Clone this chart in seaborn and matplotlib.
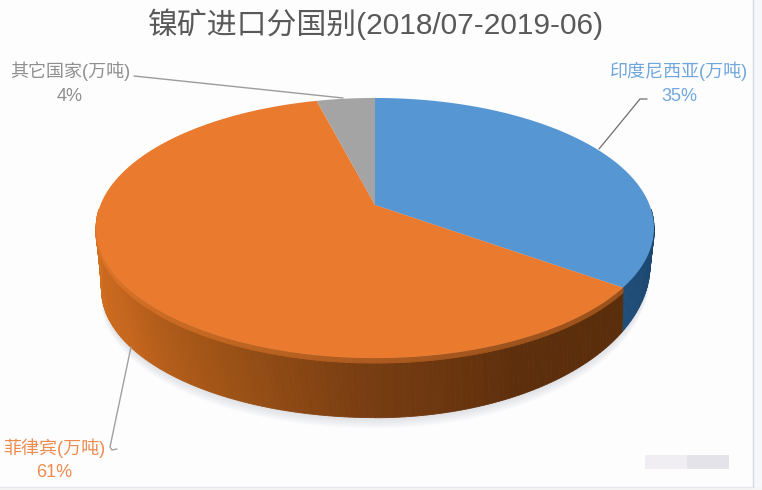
import numpy as np
import seaborn as sns
import matplotlib
matplotlib.use("Agg")
import matplotlib.pyplot as plt
from matplotlib.patches import Rectangle
from matplotlib.path import Path
from matplotlib.transforms import Transform

# Data
countries = ["印度尼西亚(万吨)", "菲律宾(万吨)", "其它国家(万吨)"]
shares = [35, 61, 4]
share_labels = ["35%", "61%", "4%"]
title = "镍矿进口分国别(2018/07-2019-06)"

face_colors = ["#5596D3", "#E97A2E", "#A4A4A4"]
label_colors = ["#6FA6DE", "#EE8B4E", "#8F8F8F"]
rim_palettes = [
    ["#173F63", "#1C4870", "#1F4E79"],
    ["#5A2D0B", "#5E2F0C", "#7A3E12", "#A05416", "#C6661E", "#D2701F"],
    ["#6E6E6E", "#6E6E6E"],
]

sns.set_theme(style="white")
plt.rcParams["font.family"] = ["Liberation Sans", "Noto Sans CJK SC"]

# Pie geometry in pixels (perspective view of a unit circle): A, B, K, dy
CX, CY = 375, 205
TOP = (274.6, 126, 0.177, 0)
BOTTOM_R = (269.5, 147, 0.2, 29)
BOTTOM_L = (273, 127.5, 0.06, 77)


def project(u, v, view=TOP, extra=0.0):
    a, b, k, dy = view
    s = 1 / (1 + k * np.asarray(v))
    return CX + a * np.asarray(u) * s, CY - b * np.asarray(v) * s + dy + extra


class Tilt(Transform):
    input_dims = 2
    output_dims = 2

    def __init__(self, view=TOP, extra=0.0):
        super().__init__()
        self.view = view
        self.extra = extra

    def transform_non_affine(self, values):
        x, y = project(values[:, 0], values[:, 1], self.view, self.extra)
        return np.column_stack([x, y])

    def transform_path_non_affine(self, path):
        # sample the arcs finely, a projected bezier is not a bezier
        steps = np.linspace(0, 1, 16)
        pts = np.vstack([curve(steps) for curve, _ in path.iter_bezier()])
        return Path(self.transform_non_affine(pts))


fig = plt.figure(figsize=(7.62, 4.9), dpi=100, facecolor="#FDFDFE")
ax = fig.add_axes([0, 0, 1, 1])


def draw_pie(values, colors, transform, zorder):
    wedges, _ = ax.pie(values, colors=colors, startangle=90, counterclock=False,
                       wedgeprops={"linewidth": 0})
    for w in wedges:
        w.set_transform(transform + ax.transData)
        w.set_zorder(zorder)
    return wedges


def rim_band(start, stop, palette, upper, lower, zorder, lighten=0.0):
    # start/stop in degrees clockwise from 12 o'clock
    # lower=None means the bottom outline, which differs left and right of 6 o'clock
    n = max(int(stop - start), 1)
    edges = np.linspace(start, stop, n + 1)
    cols = sns.blend_palette(palette, n)
    for i in range(n):
        t = np.radians(edges[[i, i + 1]])
        u, v = np.sin(t), np.cos(t)
        if lower is None:
            low = (BOTTOM_R if edges[i] < 180 else BOTTOM_L, 0)
        else:
            low = lower
        x0, y0 = project(u, v, *upper)
        x1, y1 = project(u, v, *low)
        c = np.array(cols[i]) * (1 - lighten) + np.array(matplotlib.colors.to_rgb("#EE7F30")) * lighten
        ax.fill(np.r_[x0, x1[::-1]], np.r_[y0, y1[::-1]], color=tuple(c), lw=0.6, zorder=zorder)


# soft shadow under the disc, one half for each side of the outline
shadow = (0.45, 0.47, 0.55, 0.03)
clear = (0, 0, 0, 0)
for i in range(7):
    draw_pie([50, 50], [shadow, clear], Tilt(BOTTOM_R, 1 + i * 1.6), 1)
    draw_pie([50, 50], [clear, shadow], Tilt(BOTTOM_L, 1 + i * 1.6), 1)

# side wall, drawn only for the slices facing the viewer
cum = np.cumsum([0] + shares) * 3.6
for k, (a0, a1) in enumerate(zip(cum[:-1], cum[1:])):
    lo, hi = max(a0, 92), min(a1, 268)
    if lo >= hi:
        continue
    rim_band(lo, hi, rim_palettes[k], (TOP, 4), None, 2)
    rim_band(lo, hi, rim_palettes[k], (TOP, 0), (TOP, 5), 3, lighten=0.45 if k == 1 else 0.0)

# top face
draw_pie(shares, face_colors, Tilt(), 4)

ax.set_aspect("auto")
ax.set_xlim(0, 762)
ax.set_ylim(490, 0)
ax.axis("off")

# title and labels
ax.text(376, 24, title, ha="center", va="center", fontsize=21.5, color="#595959", zorder=6)

label_pos = [(679, 71, 96), (54, 448, 472), (70, 71, 96)]
for name, pct, col, (x, y0, y1) in zip(countries, share_labels, label_colors, label_pos):
    ax.text(x, y0, name, ha="center", va="center", fontsize=13, color=col, zorder=6)
    ax.text(x, y1, pct, ha="center", va="center", fontsize=13, color=col, zorder=6)

# leader lines
ax.plot([134, 343], [76, 98], color="#9C9C9C", lw=1, zorder=6)
ax.plot([647, 640, 599], [99, 99, 149], color="#6E6E6E", lw=0.9, zorder=6)
ax.plot([117, 112, 110, 131], [449, 450, 447, 347], color="#A0A0A0", lw=1, zorder=6)

# page edges and the smudge bottom right
ax.add_patch(Rectangle((753, 0), 9, 490, color="#F7F7F9", lw=0, zorder=0))
ax.add_patch(Rectangle((0, 487), 762, 3, color="#F5F5F6", lw=0, zorder=0))
ax.plot([752.5, 752.5], [0, 487], color="#D6D9E6", lw=1, zorder=0)
ax.plot([0, 752], [487, 487], color="#E6E7EC", lw=1, zorder=0)
ax.add_patch(Rectangle((645, 455), 42, 14, color="#F0EEF3", lw=0, zorder=0))
ax.add_patch(Rectangle((687, 455), 42, 14, color="#E5E3EA", lw=0, zorder=0))

fig.savefig("out.png", dpi=100, facecolor=fig.get_facecolor())
